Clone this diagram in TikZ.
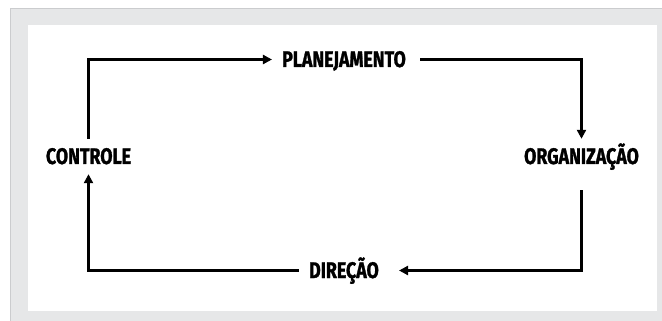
\documentclass[tikz,border=0pt]{standalone}
\usepackage{fontspec}
\newfontfamily\lbl[FakeStretch=0.79,FakeBold=1.2]{Fira Sans}
\usetikzlibrary{arrows.meta}
\definecolor{framegray}{HTML}{E6E7E8}
\definecolor{edgegray}{HTML}{CBCCCE}
\tikzset{
  lab/.style={font=\lbl\bfseries\fontsize{22.5}{22.5}\selectfont, text height=15pt, text depth=0pt, inner sep=10pt, anchor=base},
  flow/.style={line width=2.3pt, -{Triangle[length=9pt,width=9pt]}}
}
\begin{document}
\begin{tikzpicture}[x=1pt,y=-1pt]
\useasboundingbox (0,0) rectangle (662,321);
\fill[framegray] (10,8) rectangle (670,330);
\draw[edgegray, line width=1pt] (10.5,330) -- (10.5,8.5) -- (670,8.5);
\fill[white] (28,25) rectangle (657,311);
\node[lab] (plan) at (344,67) {PLANEJAMENTO};
\node[lab] (org) at (581.5,164) {ORGANIZAÇÃO};
\node[lab] (dir) at (344,278) {DIREÇÃO};
\node[lab] (contr) at (88.5,164) {CONTROLE};
\draw[flow] (contr.north) |- (plan.west);
\draw[flow, shorten <=4pt] (plan.east) -| (org.north);
\draw[flow, shorten <=16pt, shorten >=10pt] (org.south) |- (dir.east);
\draw[flow] (dir.west) -| (contr.south);
\end{tikzpicture}
\end{document}
